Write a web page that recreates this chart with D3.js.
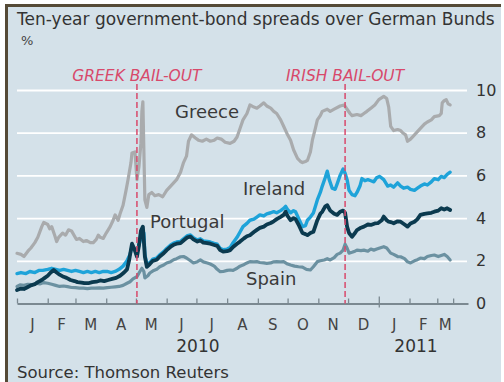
<!DOCTYPE html>
<html>
<head>
<meta charset="utf-8">
<script src="https://cdn.jsdelivr.net/npm/d3@7"></script>
<style>
  html, body { margin: 0; padding: 0; background: #fff; }
  svg { display: block; }
</style>
</head>
<body>
<svg id="chart" width="504" height="382"></svg>
<script>
// Ten-year bond spreads over German Bunds, percentage points
const greece = [
  ["2010-01-01",2.35],["2010-01-05",2.3],["2010-01-08",2.2],["2010-01-12",2.45],["2010-01-15",2.6],
  ["2010-01-19",2.85],["2010-01-22",3.1],["2010-01-26",3.6],["2010-01-28",3.8],["2010-02-01",3.7],
  ["2010-02-03",3.5],["2010-02-05",3.6],["2010-02-08",3.2],["2010-02-10",2.9],["2010-02-12",3.1],
  ["2010-02-16",3.3],["2010-02-19",3.2],["2010-02-22",3.45],["2010-02-25",3.4],["2010-03-02",3.0],
  ["2010-03-05",3.05],["2010-03-09",2.9],["2010-03-12",2.95],["2010-03-16",2.85],["2010-03-19",2.85],
  ["2010-03-22",3.0],["2010-03-24",3.2],["2010-03-26",3.1],["2010-03-29",3.05],["2010-04-01",3.3],
  ["2010-04-05",3.6],["2010-04-08",3.9],["2010-04-10",4.15],["2010-04-13",3.9],["2010-04-15",4.2],
  ["2010-04-18",4.6],["2010-04-21",5.3],["2010-04-23",5.8],["2010-04-26",6.6],["2010-04-27",7.05],
  ["2010-04-30",7.1],["2010-05-02",5.8],["2010-05-04",6.4],["2010-05-06",7.5],["2010-05-07",9.0],
  ["2010-05-08",9.45],["2010-05-10",4.85],["2010-05-12",4.5],["2010-05-14",5.1],["2010-05-17",5.2],
  ["2010-05-20",5.05],["2010-05-24",5.1],["2010-05-28",5.0],["2010-06-01",5.3],["2010-06-05",5.5],
  ["2010-06-08",5.65],["2010-06-11",5.8],["2010-06-15",6.15],["2010-06-18",6.6],["2010-06-21",6.9],
  ["2010-06-23",7.6],["2010-06-26",7.9],["2010-06-30",7.75],["2010-07-03",7.65],["2010-07-07",7.6],
  ["2010-07-11",7.7],["2010-07-15",7.6],["2010-07-19",7.65],["2010-07-22",7.75],["2010-07-26",7.7],
  ["2010-07-30",7.55],["2010-08-04",7.5],["2010-08-08",7.6],["2010-08-11",7.8],["2010-08-14",8.2],
  ["2010-08-17",8.6],["2010-08-21",8.9],["2010-08-24",9.3],["2010-08-28",9.2],["2010-08-31",9.15],
  ["2010-09-03",9.25],["2010-09-07",9.4],["2010-09-10",9.25],["2010-09-14",9.15],["2010-09-17",9.0],
  ["2010-09-20",8.9],["2010-09-24",8.6],["2010-09-27",8.3],["2010-10-01",7.9],["2010-10-04",7.65],
  ["2010-10-07",7.2],["2010-10-11",6.8],["2010-10-14",6.65],["2010-10-16",6.6],["2010-10-19",6.65],
  ["2010-10-21",6.7],["2010-10-24",7.1],["2010-10-26",7.65],["2010-10-29",8.2],["2010-10-31",8.6],
  ["2010-11-03",8.8],["2010-11-05",9.0],["2010-11-10",9.1],["2010-11-13",9.0],["2010-11-17",9.1],
  ["2010-11-23",9.25],["2010-11-27",9.3],["2010-11-30",9.1],["2010-12-03",8.9],["2010-12-05",8.8],
  ["2010-12-10",8.85],["2010-12-14",8.8],["2010-12-17",8.9],["2010-12-20",9.0],["2010-12-24",9.15],
  ["2010-12-28",9.3],["2011-01-01",9.55],["2011-01-06",9.7],["2011-01-09",9.6],["2011-01-11",9.2],
  ["2011-01-13",8.3],["2011-01-16",8.1],["2011-01-20",8.15],["2011-01-23",8.1],["2011-01-25",8.0],
  ["2011-01-28",7.9],["2011-01-30",7.6],["2011-02-02",7.7],["2011-02-06",7.9],["2011-02-09",8.05],
  ["2011-02-12",8.2],["2011-02-16",8.4],["2011-02-19",8.5],["2011-02-23",8.6],["2011-02-26",8.75],
  ["2011-03-03",8.8],["2011-03-05",8.9],["2011-03-06",9.4],["2011-03-08",9.5],["2011-03-10",9.55],
  ["2011-03-12",9.35],["2011-03-14",9.3]
];

const ireland = [
  ["2010-01-01",1.4],["2010-01-05",1.45],["2010-01-10",1.4],["2010-01-14",1.5],["2010-01-19",1.45],
  ["2010-01-23",1.55],["2010-01-27",1.55],["2010-02-01",1.6],["2010-02-05",1.65],["2010-02-09",1.6],
  ["2010-02-13",1.55],["2010-02-17",1.6],["2010-02-21",1.55],["2010-02-25",1.5],["2010-03-01",1.55],
  ["2010-03-05",1.5],["2010-03-09",1.45],["2010-03-13",1.5],["2010-03-17",1.45],["2010-03-21",1.5],
  ["2010-03-25",1.45],["2010-03-29",1.5],["2010-04-02",1.5],["2010-04-06",1.45],["2010-04-10",1.5],
  ["2010-04-14",1.6],["2010-04-18",1.75],["2010-04-22",2.0],["2010-04-25",2.3],["2010-04-27",2.65],
  ["2010-04-30",2.55],["2010-05-02",2.4],["2010-05-05",2.9],["2010-05-07",3.2],["2010-05-09",3.3],
  ["2010-05-10",2.3],["2010-05-12",1.85],["2010-05-15",1.92],["2010-05-18",2.08],["2010-05-22",2.13],
  ["2010-05-25",2.28],["2010-05-29",2.43],["2010-06-01",2.58],["2010-06-05",2.74],["2010-06-08",2.83],
  ["2010-06-11",2.88],["2010-06-15",2.91],["2010-06-18",3.03],["2010-06-22",3.18],["2010-06-25",3.21],
  ["2010-06-28",3.08],["2010-07-02",2.98],["2010-07-05",3.03],["2010-07-08",2.93],["2010-07-12",2.91],
  ["2010-07-15",2.88],["2010-07-19",2.82],["2010-07-22",2.78],["2010-07-25",2.58],["2010-07-28",2.52],
  ["2010-08-01",2.55],["2010-08-04",2.62],["2010-08-07",2.85],["2010-08-11",3.1],["2010-08-14",3.35],
  ["2010-08-17",3.6],["2010-08-21",3.75],["2010-08-24",3.9],["2010-08-28",3.95],["2010-08-31",4.05],
  ["2010-09-03",4.15],["2010-09-07",4.1],["2010-09-10",4.2],["2010-09-14",4.25],["2010-09-17",4.3],
  ["2010-09-20",4.25],["2010-09-24",4.35],["2010-09-27",4.45],["2010-09-29",4.55],["2010-10-01",4.4],
  ["2010-10-04",4.25],["2010-10-07",4.35],["2010-10-09",4.3],["2010-10-12",4.0],["2010-10-16",3.6],
  ["2010-10-19",3.65],["2010-10-21",3.9],["2010-10-24",4.05],["2010-10-27",4.24],["2010-10-31",4.85],
  ["2010-11-03",5.2],["2010-11-05",5.5],["2010-11-08",5.9],["2010-11-10",6.2],["2010-11-12",5.8],
  ["2010-11-15",5.4],["2010-11-18",5.35],["2010-11-20",5.6],["2010-11-23",6.0],["2010-11-26",6.3],
  ["2010-11-28",6.1],["2010-11-30",5.8],["2010-12-02",5.3],["2010-12-05",5.1],["2010-12-08",5.05],
  ["2010-12-10",5.2],["2010-12-13",5.5],["2010-12-15",5.85],["2010-12-18",5.75],["2010-12-21",5.8],
  ["2010-12-24",5.75],["2010-12-27",5.7],["2010-12-30",5.9],["2011-01-02",5.95],["2011-01-06",5.8],
  ["2011-01-10",5.5],["2011-01-13",5.55],["2011-01-16",5.45],["2011-01-20",5.65],["2011-01-23",5.5],
  ["2011-01-26",5.4],["2011-01-30",5.45],["2011-02-02",5.35],["2011-02-06",5.3],["2011-02-09",5.4],
  ["2011-02-12",5.5],["2011-02-16",5.6],["2011-02-19",5.55],["2011-02-23",5.7],["2011-02-26",5.85],
  ["2011-03-02",5.8],["2011-03-05",5.95],["2011-03-08",5.9],["2011-03-11",6.05],["2011-03-14",6.15]
];

const portugal = [
  ["2010-01-01",0.63],["2010-01-05",0.7],["2010-01-08",0.68],["2010-01-11",0.75],["2010-01-15",0.85],
  ["2010-01-19",0.9],["2010-01-22",1.0],["2010-01-26",1.1],["2010-01-29",1.2],["2010-02-01",1.3],
  ["2010-02-04",1.45],["2010-02-07",1.57],["2010-02-10",1.45],["2010-02-13",1.35],["2010-02-17",1.25],
  ["2010-02-20",1.2],["2010-02-24",1.1],["2010-02-28",1.05],["2010-03-03",1.0],["2010-03-07",0.98],
  ["2010-03-10",0.95],["2010-03-14",0.95],["2010-03-18",1.0],["2010-03-22",1.02],["2010-03-26",1.08],
  ["2010-03-30",1.05],["2010-04-03",1.1],["2010-04-07",1.15],["2010-04-11",1.2],["2010-04-15",1.3],
  ["2010-04-19",1.45],["2010-04-22",1.6],["2010-04-24",2.0],["2010-04-27",2.8],["2010-04-29",2.6],
  ["2010-05-02",2.2],["2010-05-04",2.7],["2010-05-06",3.4],["2010-05-08",3.6],["2010-05-10",2.2],
  ["2010-05-12",1.72],["2010-05-15",1.85],["2010-05-18",2.0],["2010-05-22",2.05],["2010-05-25",2.2],
  ["2010-05-29",2.35],["2010-06-01",2.5],["2010-06-05",2.66],["2010-06-08",2.75],["2010-06-11",2.8],
  ["2010-06-15",2.83],["2010-06-18",2.95],["2010-06-22",3.1],["2010-06-25",3.13],["2010-06-28",3.0],
  ["2010-07-02",2.9],["2010-07-05",2.95],["2010-07-08",2.85],["2010-07-12",2.83],["2010-07-15",2.8],
  ["2010-07-19",2.74],["2010-07-22",2.7],["2010-07-25",2.5],["2010-07-28",2.43],["2010-08-01",2.45],
  ["2010-08-04",2.5],["2010-08-07",2.65],["2010-08-11",2.8],["2010-08-14",2.9],["2010-08-18",3.05],
  ["2010-08-21",3.15],["2010-08-24",3.2],["2010-08-28",3.35],["2010-08-31",3.45],["2010-09-03",3.54],
  ["2010-09-07",3.6],["2010-09-10",3.7],["2010-09-14",3.77],["2010-09-17",3.85],["2010-09-20",3.95],
  ["2010-09-24",4.06],["2010-09-27",4.15],["2010-09-29",4.3],["2010-10-01",4.1],["2010-10-04",3.9],
  ["2010-10-07",4.0],["2010-10-09",3.95],["2010-10-12",3.7],["2010-10-16",3.3],["2010-10-19",3.25],
  ["2010-10-21",3.2],["2010-10-24",3.3],["2010-10-27",3.36],["2010-10-31",3.9],["2010-11-03",4.2],
  ["2010-11-05",4.3],["2010-11-08",4.55],["2010-11-10",4.6],["2010-11-13",4.35],["2010-11-17",4.2],
  ["2010-11-20",4.15],["2010-11-23",4.3],["2010-11-26",4.35],["2010-11-28",4.25],["2010-11-30",3.6],
  ["2010-12-02",3.3],["2010-12-05",3.13],["2010-12-08",3.3],["2010-12-10",3.44],["2010-12-14",3.55],
  ["2010-12-17",3.6],["2010-12-21",3.7],["2010-12-24",3.68],["2010-12-28",3.75],["2010-12-31",3.76],
  ["2011-01-04",3.9],["2011-01-06",4.07],["2011-01-09",3.9],["2011-01-11",3.83],["2011-01-14",3.8],
  ["2011-01-16",3.76],["2011-01-20",3.85],["2011-01-23",3.83],["2011-01-27",3.7],["2011-01-30",3.6],
  ["2011-02-02",3.75],["2011-02-06",3.83],["2011-02-09",3.95],["2011-02-12",4.15],["2011-02-16",4.2],
  ["2011-02-19",4.22],["2011-02-23",4.25],["2011-02-26",4.3],["2011-03-02",4.35],["2011-03-05",4.46],
  ["2011-03-08",4.4],["2011-03-11",4.46],["2011-03-14",4.38]
];

const spain = [
  ["2010-01-01",0.8],["2010-01-04",0.87],["2010-01-08",0.85],["2010-01-12",0.9],["2010-01-16",0.88],
  ["2010-01-20",0.95],["2010-01-24",0.92],["2010-01-28",0.98],["2010-02-01",0.95],["2010-02-05",0.9],
  ["2010-02-09",0.85],["2010-02-13",0.8],["2010-02-17",0.82],["2010-02-21",0.79],["2010-02-25",0.75],
  ["2010-03-01",0.74],["2010-03-05",0.72],["2010-03-09",0.72],["2010-03-13",0.7],["2010-03-17",0.72],
  ["2010-03-21",0.72],["2010-03-25",0.73],["2010-03-29",0.72],["2010-04-02",0.74],["2010-04-06",0.76],
  ["2010-04-10",0.78],["2010-04-14",0.8],["2010-04-18",0.85],["2010-04-22",0.95],["2010-04-25",1.02],
  ["2010-04-28",1.15],["2010-05-02",1.26],["2010-05-05",1.5],["2010-05-07",1.65],["2010-05-09",1.5],
  ["2010-05-10",1.2],["2010-05-13",1.3],["2010-05-15",1.43],["2010-05-19",1.55],["2010-05-22",1.6],
  ["2010-05-25",1.72],["2010-05-29",1.8],["2010-06-01",1.9],["2010-06-05",1.96],["2010-06-08",2.05],
  ["2010-06-11",2.1],["2010-06-15",2.19],["2010-06-18",2.2],["2010-06-21",2.13],["2010-06-25",2.0],
  ["2010-06-28",1.9],["2010-07-02",1.96],["2010-07-05",2.04],["2010-07-08",1.95],["2010-07-12",1.9],
  ["2010-07-15",1.85],["2010-07-19",1.75],["2010-07-22",1.6],["2010-07-25",1.49],["2010-07-28",1.5],
  ["2010-08-01",1.55],["2010-08-04",1.57],["2010-08-07",1.55],["2010-08-11",1.65],["2010-08-14",1.75],
  ["2010-08-17",1.8],["2010-08-21",1.9],["2010-08-24",1.96],["2010-08-28",1.95],["2010-08-31",1.96],
  ["2010-09-03",1.92],["2010-09-07",1.9],["2010-09-10",1.88],["2010-09-14",1.9],["2010-09-17",1.95],
  ["2010-09-20",1.96],["2010-09-24",1.95],["2010-09-27",1.96],["2010-10-01",1.85],["2010-10-04",1.8],
  ["2010-10-08",1.75],["2010-10-12",1.72],["2010-10-16",1.7],["2010-10-20",1.6],["2010-10-24",1.57],
  ["2010-10-27",1.72],["2010-10-31",1.96],["2010-11-03",2.0],["2010-11-07",2.04],["2010-11-10",2.1],
  ["2010-11-13",2.04],["2010-11-17",2.15],["2010-11-20",2.3],["2010-11-23",2.36],["2010-11-26",2.5],
  ["2010-11-28",2.78],["2010-11-30",2.6],["2010-12-02",2.36],["2010-12-05",2.4],["2010-12-08",2.45],
  ["2010-12-10",2.5],["2010-12-14",2.48],["2010-12-17",2.5],["2010-12-21",2.45],["2010-12-24",2.55],
  ["2010-12-27",2.5],["2010-12-30",2.55],["2011-01-02",2.6],["2011-01-06",2.66],["2011-01-09",2.6],
  ["2011-01-13",2.36],["2011-01-16",2.3],["2011-01-20",2.2],["2011-01-23",2.19],["2011-01-27",2.1],
  ["2011-01-30",1.95],["2011-02-02",1.9],["2011-02-06",2.0],["2011-02-09",2.05],["2011-02-12",2.13],
  ["2011-02-16",2.1],["2011-02-19",2.2],["2011-02-23",2.25],["2011-02-26",2.27],["2011-03-02",2.2],
  ["2011-03-05",2.25],["2011-03-08",2.3],["2011-03-11",2.2],["2011-03-14",2.04]
];

const seriesNames = ["Greece", "Ireland", "Portugal", "Spain"];
const yTicks = [0, 2, 4, 6, 8, 10];
const monthLabels = ["J","F","M","A","M","J","J","A","S","O","N","D","J","F","M"];
const yearLabels = ["2010", "2011"];
const events = [["2010-05-02", "GREEK BAIL-OUT"], ["2010-11-28", "IRISH BAIL-OUT"]];
const axisStart = "2010-01-01", axisEnd = "2011-04-01", dataEnd = "2011-03-17";

const parse = d3.timeParse("%Y-%m-%d");
const svg = d3.select("#chart");
const FONT = "'DejaVu Sans', sans-serif";

// panel with a dark frame on the top and left edges
svg.append("rect").attr("x", 5).attr("y", 5).attr("width", 496).attr("height", 377).attr("fill", "#d4e1e9");
svg.append("line").attr("x1", 5).attr("x2", 501).attr("y1", 5.5).attr("y2", 5.5)
  .attr("stroke", "#554a36").attr("stroke-width", 3);
svg.append("line").attr("x1", 6.5).attr("x2", 6.5).attr("y1", 4).attr("y2", 382)
  .attr("stroke", "#554a36").attr("stroke-width", 3);

const x = d3.scaleTime().domain([parse(axisStart), parse(axisEnd)]).range([17, 468]);
const y = d3.scaleLinear().domain([0, 10]).range([303.5, 90]);

// title and unit
svg.append("text").attr("x", 17).attr("y", 25).attr("font-family", FONT).attr("font-size", 17)
  .attr("fill", "#333").text("Ten-year government-bond spreads over German Bunds");
svg.append("text").attr("x", 21).attr("y", 45).attr("font-family", FONT).attr("font-size", 13)
  .attr("fill", "#444").text("%");

// horizontal gridlines and right-hand value labels
const yAxis = svg.append("g").attr("transform", "translate(17,0)")
  .call(d3.axisRight(y).tickValues(yTicks).tickSize(450).tickPadding(9).tickFormat(d3.format("d")));
yAxis.select(".domain").remove();
yAxis.selectAll(".tick line").attr("stroke", d => d === 0 ? "none" : "#fff").attr("stroke-width", 1.8);
yAxis.selectAll(".tick text").attr("font-family", FONT).attr("font-size", 16).attr("fill", "#333");

// time axis: month boundaries plus a closing tick at the last observation
const monthStarts = d3.timeMonth.range(parse(axisStart), parse("2011-03-02"));
const tickDates = monthStarts.concat([parse(dataEnd)]);
const xAxis = svg.append("g").attr("transform", "translate(0,303.5)")
  .call(d3.axisBottom(x).tickValues(tickDates).tickSizeInner(-5).tickSizeOuter(0).tickFormat(""));
xAxis.select(".domain").attr("stroke", "#7b8991").attr("stroke-width", 1.8);
xAxis.selectAll(".tick line").attr("stroke", "#7b8991").attr("stroke-width", 1.3)
  .filter(d => +d === +parse("2011-01-01")).attr("y1", 4).attr("y2", -7);

// month initials centred between boundaries
svg.append("g").selectAll("text").data(monthLabels).join("text")
  .attr("x", (d, i) => (x(tickDates[i]) + x(tickDates[i + 1])) / 2)
  .attr("y", 330).attr("text-anchor", "middle").attr("font-family", FONT).attr("font-size", 15)
  .attr("fill", "#444").text(d => d);

// year labels
const yearSpans = [[parse("2010-01-01"), parse("2011-01-01")], [parse("2011-01-01"), parse(dataEnd)]];
svg.append("g").selectAll("text").data(yearLabels).join("text")
  .attr("x", (d, i) => (x(yearSpans[i][0]) + x(yearSpans[i][1])) / 2)
  .attr("y", 352).attr("text-anchor", "middle").attr("font-family", FONT).attr("font-size", 17)
  .attr("fill", "#333").text(d => d);

// series lines
const line = d3.line().x(d => x(parse(d[0]))).y(d => y(d[1]));
const styles = [
  { data: greece, color: "#a9abad", width: 3.2 },
  { data: spain, color: "#6b91a1", width: 3.2 },
  { data: ireland, color: "#1ea3d9", width: 3.4 },
  { data: portugal, color: "#0b3a4f", width: 3.8 }
];
svg.append("g").selectAll("path").data(styles).join("path")
  .attr("d", s => line(s.data)).attr("fill", "none")
  .attr("stroke", s => s.color).attr("stroke-width", s => s.width)
  .attr("stroke-linejoin", "round").attr("stroke-linecap", "round");

// event markers
const ev = svg.append("g");
ev.selectAll("line").data(events).join("line")
  .attr("x1", d => x(parse(d[0]))).attr("x2", d => x(parse(d[0])))
  .attr("y1", 84).attr("y2", 303.5)
  .attr("stroke", "#d8496b").attr("stroke-width", 1.5).attr("stroke-dasharray", "6,3");
ev.selectAll("text").data(events).join("text")
  .attr("x", d => x(parse(d[0]))).attr("y", 81).attr("text-anchor", "middle")
  .attr("font-family", FONT).attr("font-size", 15.5).attr("font-style", "italic")
  .attr("fill", "#d8496b").text(d => d[1]);

// series names beside their lines
const labelPos = [[175, 118], [243, 195], [150, 228], [246, 285]];
svg.append("g").selectAll("text").data(seriesNames).join("text")
  .attr("x", (d, i) => labelPos[i][0]).attr("y", (d, i) => labelPos[i][1])
  .attr("font-family", FONT).attr("font-size", 18).attr("fill", "#3a3a3a").text(d => d);

// source note
svg.append("text").attr("x", 17).attr("y", 378).attr("font-family", FONT).attr("font-size", 16.5)
  .attr("fill", "#333").text("Source: Thomson Reuters");
</script>
</body>
</html>
